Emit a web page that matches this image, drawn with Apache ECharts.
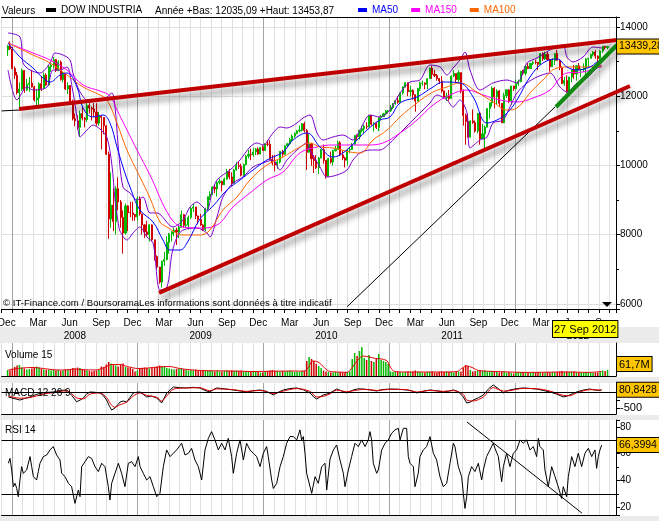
<!DOCTYPE html>
<html><head><meta charset="utf-8">
<script src="https://cdn.jsdelivr.net/npm/echarts/dist/echarts.min.js"></script>
<style>html,body{margin:0;padding:0;background:#fff}#c{width:659px;height:521px}</style>
</head><body><div id="c"></div>
<script>
// ---------- DATA ----------
const seriesName = 'DOW INDUSTRIA';
const yearLow = 12035.09, yearHigh = 13453.87;
const lastDate = '2012-09-27';
const firstWeekMonday = '2007-12-17';
const monthNames = ['Dec','Jan','Feb','Mar','Apr','May','Jun','Jul','Aug','Sep','Oct','Nov'];
// weekly candles [open, close, low, high]
const ohlc = [
[13339,13451,13167,13480],[13451,13365,13340,13580],[13365,12800,12780,13420],[12800,12606,12500,12860],[12606,12099,12050,12700],
[12099,12207,11630,12400],[12207,12743,12150,12800],[12743,12182,12100,12750],[12182,12348,12150,12500],[12348,12381,12130,12550],
[12381,12266,12250,12760],[12266,11894,11850,12300],[11894,11951,11730,12200],[11951,12361,11650,12400],[12361,12216,12150,12570],
[12216,12609,12200,12680],[12609,12325,12300,12660],[12325,12849,12300,12900],[12849,12891,12700,12950],[12891,13058,12800,13130],
[13058,12745,12700,13070],[12745,12986,12720,13040],[12986,12480,12450,13030],[12480,12638,12400,12700],[12638,12209,12180,12660],
[12209,12307,12060,12400],[12307,11843,11800,12320],[11843,11346,11300,11900],[11346,11288,11130,11500],[11288,11100,11030,11450],
[11100,11496,10830,11580],[11496,11370,11300,11700],[11370,11326,11100,11400],[11326,11734,11250,11800],[11734,11659,11500,11800],
[11659,11628,11300,11700],[11628,11543,11400,11800],[11543,11220,11150,11800],[11220,11421,11150,11550],[11421,11388,10460,11450],
[11388,11143,10900,11390],[11143,10325,10300,11150],[10325,8451,7880,10400],[8451,8852,8200,9800],[8852,8378,8100,9350],
[8378,9325,8000,9400],[9325,8943,8700,9650],[8943,8497,8200,9000],[8497,8046,7450,8700],[8046,8829,8000,8900],
[8829,8635,8100,8850],[8635,8629,8500,8950],[8629,8579,8400,8950],[8579,8515,8400,8600],[8515,9034,8400,9100],
[9034,8599,8550,9100],[8599,8281,8000,8600],[8281,8077,7900,8300],[8077,8000,7950,8400],[8000,8280,7800,8300],
[8280,7850,7800,8300],[7850,7366,7250,7850],[7366,7062,7000,7400],[7062,6627,6580,7070],[6627,7224,6470,7250],
[7224,7279,7100,7500],[7279,7776,7250,7950],[7776,8018,7450,8050],[8018,8083,7800,8100],[8083,8131,7950,8200],
[8131,8076,7700,8200],[8076,8212,7900,8300],[8212,8575,8200,8700],[8575,8268,8200,8600],[8268,8277,8200,8500],
[8277,8500,8150,8550],[8500,8764,8450,8800],[8764,8799,8650,8880],[8799,8539,8450,8800],[8539,8438,8300,8550],
[8438,8280,8250,8600],[8280,8146,8100,8300],[8146,8743,8100,8780],[8743,9093,8700,9100],[9093,9171,9000,9250],
[9171,9370,9150,9400],[9370,9321,9200,9450],[9321,9505,9100,9550],[9505,9544,9450,9620],[9544,9441,9250,9550],
[9441,9605,9430,9650],[9605,9820,9580,9900],[9820,9665,9600,9900],[9665,9487,9400,9800],[9487,9865,9480,9900],
[9865,9995,9850,10100],[9995,9972,9900,10120],[9972,9713,9680,10050],[9713,10023,9700,10050],[10023,10270,10000,10300],
[10270,10318,10200,10450],[10318,10309,10150,10480],[10309,10388,10250,10500],[10388,10471,10300,10500],[10471,10329,10300,10520],
[10329,10520,10320,10530],[10520,10428,10420,10580],[10428,10618,10420,10640],[10618,10610,10550,10730],[10610,10172,10150,10730],
[10172,10067,10000,10300],[10067,10012,9830,10300],[10012,10099,9900,10150],[10099,10402,10050,10420],[10402,10325,10250,10450],
[10325,10566,10300,10580],[10566,10625,10520,10650],[10625,10742,10600,10800],[10742,10850,10700,10900],[10850,10927,10800,10950],
[10927,10997,10900,11020],[10997,11019,10950,11150],[11019,11204,10980,11220],[11204,11009,10950,11260],[11009,10380,9870,11050],
[10380,10620,10370,10900],[10620,10193,9990,10650],[10193,10137,9780,10300],[10137,9931,9900,10300],[9931,10212,9750,10250],
[10212,10450,10200,10480],[10450,10144,10050,10600],[10144,9686,9620,10150],[9686,10198,9680,10220],[10198,10097,10050,10400],
[10097,10425,10000,10450],[10425,10466,10400,10570],[10466,10654,10460,10720],[10654,10303,10270,10700],[10303,10213,10150,10430],
[10213,10150,9940,10250],[10150,10448,10000,10480],[10448,10462,10350,10500],[10462,10607,10450,10650],[10607,10860,10600,10880],
[10860,10829,10700,10900],[10829,11006,10750,11030],[11006,11062,10950,11150],[11062,11132,10900,11180],[11132,11118,11050,11250],
[11118,11444,11100,11450],[11444,11192,11150,11450],[11192,11203,10980,11250],[11203,11092,11050,11250],[11092,11382,10990,11400],
[11382,11410,11300,11460],[11410,11491,11400,11520],[11491,11573,11450,11600],[11573,11578,11500,11600],[11578,11674,11550,11750],
[11674,11787,11630,11800],[11787,11871,11750,11880],[11871,11823,11780,12000],[11823,12092,11820,12100],[12092,12273,12050,12280],
[12273,12391,12250,12400],[12391,12130,12000,12400],[12130,12170,11990,12300],[12170,12044,11900,12200],[12044,11858,11550,12050],
[11858,12221,11850,12240],[12221,12377,12150,12420],[12377,12380,12300,12450],[12380,12342,12200,12400],[12342,12505,12200,12520],
[12505,12811,12500,12820],[12811,12638,12500,12880],[12638,12596,12550,12760],[12596,12512,12450,12640],[12512,12441,12350,12520],
[12441,12151,12100,12580],[12151,11952,11930,12170],[11952,12004,11860,12100],[12004,11934,11870,12180],[11934,12582,11930,12600],
[12582,12657,12550,12750],[12657,12479,12400,12660],[12479,12681,12400,12750],[12681,12143,12080,12690],[12143,11445,11150,12200],
[11445,11269,10600,11500],[11269,10818,10800,11500],[10818,11284,10800,11300],[11284,11240,11200,11620],[11240,10992,10950,11300],
[10992,11509,10930,11510],[11509,10771,10600,11520],[10771,10913,10770,11200],[10913,11103,10400,11150],[11103,11644,11100,11650],
[11644,11809,11350,11810],[11809,12231,11700,12280],[12231,11983,11650,12260],[11983,12153,11750,12200],[12153,11796,11700,12180],
[11796,11231,11230,11800],[11231,12019,11220,12100],[12019,12184,11950,12200],[12184,11867,11800,12200],[11867,12294,11750,12300],
[12294,12218,12150,12300],[12218,12360,12200,12480],[12360,12422,12300,12480],[12422,12720,12400,12730],[12720,12660,12600,12760],
[12660,12862,12600,12900],[12862,12801,12780,12950],[12801,12950,12800,12960],[12950,12983,12900,13020],[12983,12978,12920,13050],
[12978,12922,12750,12990],[12922,13233,12900,13250],[13233,13081,13020,13270],[13081,13212,13050,13290],[13212,13060,13050,13300],
[13060,12850,12710,13080],[12850,13029,12840,13100],[13029,13228,12900,13240],[13228,13038,13030,13340],[13038,12821,12750,13060],
[12821,12369,12350,12860],[12369,12454,12300,12560],[12454,12119,12100,12600],[12119,12554,12035.09,12560],[12554,12767,12400,12780],
[12767,12641,12500,12900],[12641,12880,12450,12900],[12880,12772,12750,12960],[12772,12777,12550,12800],[12777,12823,12700,12950],
[12823,13075,12600,13100],[13075,13096,12850,13110],[13096,13207,13090,13230],[13207,13275,13150,13300],[13275,13158,13080,13330],
[13158,13090,13000,13180],[13090,13306,13000,13320],[13306,13440,13250,13454],[13440,13410,13350,13453.87],[13410,13439.28,13360,13450]
];
// weekly volume (millions)
const volume = [
60,55,75,90,105,110,85,75,65,70, 75,90,95,85,70,65,60,65,55,60, 55,60,50,55,65,60,70,80,75,85, 80,65,60,55,50,45,50,55,60,95,
90,115,140,125,120,105,95,110,125,90, 85,80,70,45,55,70,80,85,80,75, 85,90,95,105,100,90,80,75,70,65, 70,75,80,65,60,55,60,55,65,50,
55,60,55,50,55,50,45,55,45,45, 50,55,50,55,50,55,50,55,45,50, 45,40,45,50,45,35,35,45,50,55, 60,55,50,45,50,45,50,55,45,40,
45,40,50,55,150,190,170,150,120,100, 80,55,45,40,35,35,40,35,40,35, 35,40,45,170,230,200,250,290,180,160, 210,150,140,170,220,160,150,140,120,45,
40,40,45,40,35,40,45,40,45,55, 45,40,35,35,40,40,45,35,35,40, 45,40,45,40,40,35,40,45,45,80, 110,100,60,45,50,55,60,50,55,45,
45,50,45,40,35,40,45,35,40,30, 25,35,40,40,40,35,35,35,40,35, 40,40,35,35,40,35,40,35,40,45, 50,40,45,40,45,45,40,35,35,35,
40,35,30,30,35,35,40,55,50,61.7
];
// [month index since 1 Dec 2007, value]
const ma50 = [[0.62,13538],[1.76,13133],[3.00,12815],[3.96,12526],[4.63,12410],[5.58,12613],[6.25,12671],[7.20,12266],[7.78,11659],[8.73,11399],[9.68,11457],[10.35,11226],[11.02,10532],[11.59,9954],[12.26,9376],[13.21,8711],[14.46,8365],[15.41,7844],[16.08,7555],[17.03,7555],[17.70,7758],[18.94,8451],[20.18,8827],[21.52,9289],[22.76,9578],[24.00,9867],[25.33,10156],[26.86,10388],[27.82,10734],[29.15,10937],[30.39,10532],[31.63,10243],[32.59,10359],[33.92,10734],[34.88,11023],[36.12,11312],[37.07,11399],[38.03,11804],[39.65,11977],[41.18,12266],[42.14,12410],[43.75,12382],[45.00,11977],[46.33,11226],[47.28,11312],[48.24,11514],[49.19,11890],[50.43,12555],[51.67,12960],[53.01,13075],[53.96,12844],[54.92,12757],[56.16,12844],[56.83,12989],[57.30,13050]];
const ma100 = [[0.62,13538],[3.00,13191],[4.63,12960],[6.25,12613],[7.78,12266],[9.40,12035],[10.07,11890],[11.02,11226],[11.97,10445],[13.21,9665],[14.17,9058],[15.12,8365],[15.79,8220],[17.32,7989],[18.94,7989],[19.89,8133],[21.13,8711],[22.47,9087],[23.71,9578],[25.33,10012],[26.86,10243],[28.48,10532],[29.44,10648],[30.39,10532],[31.63,10503],[33.26,10388],[34.21,10359],[35.45,10734],[36.79,11023],[38.03,11399],[39.65,11804],[41.18,12122],[42.51,12266],[43.75,12382],[45.37,12122],[46.90,11833],[48.24,11601],[49.19,11659],[50.43,12093],[51.67,12468],[53.01,12815],[54.25,12844],[55.49,12844],[57.30,12873]];
const ma150 = [[0.62,13538],[3.00,13249],[4.63,13046],[6.25,12757],[7.78,12324],[9.40,12150],[10.35,12006],[11.02,11601],[11.97,11023],[12.93,10445],[14.17,9720],[16.08,8509],[17.32,8220],[18.94,8191],[20.56,8278],[22.09,8798],[23.71,9203],[25.33,9578],[26.86,9810],[28.48,10359],[30.11,10532],[31.63,10590],[33.26,10590],[34.88,10590],[36.40,10648],[38.03,10937],[39.65,11312],[41.18,11746],[42.80,12035],[44.42,12179],[45.95,12035],[47.57,11890],[49.19,11833],[50.72,11948],[52.34,12179],[53.29,12526],[53.96,12671],[55.49,12700],[57.30,12902]];
const bandUp = [[0.62,13827],[1.76,13711],[2.05,12960],[2.72,12757],[3.67,12671],[4.63,12960],[5.10,13249],[5.87,13191],[6.54,13046],[6.82,12671],[7.49,12122],[8.44,11833],[9.40,11890],[10.07,11977],[10.54,12093],[10.83,11688],[11.11,10648],[11.59,9376],[12.26,9203],[12.93,9000],[13.50,9087],[14.17,8625],[14.84,8625],[16.36,8220],[17.32,8422],[17.99,8798],[18.65,8943],[19.23,8798],[19.61,8700],[20.08,9203],[20.56,9578],[21.80,9867],[22.76,10156],[23.71,10532],[24.38,10648],[24.95,10590],[25.91,10937],[26.57,11110],[27.24,11081],[28.20,11226],[28.77,11370],[29.44,11457],[30.11,10937],[30.68,10734],[31.63,10821],[32.59,10879],[33.54,10734],[34.21,11023],[35.16,11457],[36.12,11399],[37.07,11601],[38.03,12093],[38.98,12410],[39.93,12468],[40.89,12902],[41.85,12844],[42.51,12613],[43.09,12815],[43.75,13046],[44.23,13278],[44.71,12757],[45.66,12179],[46.90,12382],[48.24,12468],[49.19,12382],[50.15,12960],[51.10,13104],[52.34,13335],[53.58,13480],[53.96,13133],[54.54,12989],[55.49,13133],[56.44,13422],[57.30,13393]];
const bandDown = [[0.62,12757],[1.48,11890],[2.43,12266],[3.00,12179],[4.34,12266],[4.91,12757],[5.58,12757],[6.25,12844],[6.73,12266],[7.20,11399],[7.49,10821],[8.16,11023],[8.73,11168],[9.40,11050],[10.07,10800],[10.54,10000],[10.83,9000],[11.11,8400],[11.31,8100],[11.97,7844],[12.55,8046],[13.21,8220],[13.88,7931],[14.46,7758],[15.12,6399],[15.79,6486],[16.27,7467],[16.75,7931],[17.32,8133],[18.65,8191],[19.61,8046],[19.89,7931],[20.56,8509],[21.13,9087],[22.09,9491],[23.04,9665],[24.00,9954],[24.95,10070],[25.91,10156],[26.57,9867],[27.24,10156],[28.20,10445],[29.15,10648],[29.44,10445],[30.39,9954],[31.06,9665],[32.01,9722],[32.97,9867],[33.54,10156],[34.21,10359],[35.16,10445],[36.12,10445],[37.07,10648],[38.03,10937],[38.98,11226],[39.93,11515],[40.89,11804],[41.56,12035],[42.51,11890],[43.09,11688],[43.75,11890],[44.42,11515],[44.71,10503],[45.66,10734],[46.33,10821],[46.90,11226],[47.86,11312],[48.52,11688],[49.19,12093],[50.15,12382],[51.10,12555],[52.34,12671],[53.29,12266],[53.96,12122],[54.92,12382],[55.87,12526],[56.83,12815],[57.30,12850]];
const trendUpper = [[1.67,11630],[58.73,13624]];
const trendLower = [[15.03,6318],[59.97,12295]];
const trendGreen = [[52.91,11688],[58.73,13480]];
const trendBlack = [[32.97,5913],[52.82,11688]];
const stubBlack = [[0,11575],[1.67,11600]];
const volumeMa15 = [[0.65,60],[2,80],[3,85],[4,75],[5,62],[6,60],[7,70],[8,62],[9,60],[9.8,85],[10.5,115],[11.3,115],[12,95],[13,75],[14,80],[15,90],[16,95],[17,75],[18,62],[19,55],[20,52],[22,50],[24,45],[26,48],[28,50],[28.9,48],[29.3,90],[29.7,150],[30.2,140],[30.7,95],[31.2,50],[32,40],[33,37],[33.5,90],[34.0,160],[34.5,200],[35.1,190],[35.7,175],[36.3,170],[36.8,150],[37.1,90],[37.5,45],[38.5,40],[40,40],[42,40],[43.5,45],[43.9,75],[44.4,100],[44.9,85],[45.5,55],[46.4,48],[48,42],[50,36],[52,38],[54,40],[56,36],[57.27,45]];
const macdLine = [[0.65,-150],[1.2,-200],[1.76,-250],[2.2,-200],[2.72,-150],[3.4,-60],[3.99,-20],[4.5,0],[4.94,10],[5.6,60],[6.22,75],[6.7,-100],[7.17,-305],[7.5,-250],[7.81,-185],[8.1,-60],[8.44,10],[8.9,0],[9.40,-20],[9.7,-100],[10.03,-250],[10.3,-450],[10.51,-570],[10.83,-505],[11.1,-400],[11.31,-315],[11.6,-280],[11.94,-315],[12.3,-150],[12.58,-20],[12.9,0],[13.22,10],[13.5,-60],[13.85,-150],[14.3,-120],[14.81,-185],[15.1,-280],[15.28,-345],[15.5,-200],[15.76,-30],[16.1,80],[16.40,170],[17.0,150],[17.67,140],[18.3,160],[18.94,140],[19.4,60],[19.89,10],[20.2,80],[20.53,140],[21.3,110],[22.12,75],[22.8,40],[23.39,10],[24.0,50],[24.67,75],[25.3,30],[25.94,-85],[26.4,0],[26.89,75],[27.5,120],[28.17,140],[28.8,80],[29.44,-20],[29.8,-150],[30.07,-215],[30.4,-150],[30.71,-85],[31.0,-60],[31.35,-20],[31.98,105],[32.5,40],[32.94,-20],[33.57,75],[34.0,110],[34.53,105],[35.2,80],[35.80,40],[36.4,90],[37.07,105],[37.8,100],[38.66,75],[39.2,40],[39.62,-20],[40.2,30],[40.89,75],[41.5,50],[42.16,10],[42.7,40],[43.12,75],[43.6,20],[44.07,-150],[44.39,-345],[44.7,-320],[45.02,-250],[45.5,-180],[45.98,-85],[46.5,120],[46.93,235],[47.4,120],[47.89,-20],[48.2,40],[48.52,75],[49.2,120],[49.79,140],[50.4,125],[51.07,105],[51.7,60],[52.34,10],[53.0,-60],[53.61,-150],[53.9,-130],[54.25,-85],[54.6,-30],[54.88,10],[55.5,70],[56.16,105],[56.7,70],[57.11,60],[57.27,80.8428]];
const macdSignal = [[0.65,-120],[1.76,-190],[2.72,-170],[3.99,-60],[4.94,-10],[6.22,50],[7.17,-180],[7.81,-210],[8.44,-60],[9.40,-20],[10.03,-170],[10.51,-420],[10.83,-480],[11.31,-400],[11.94,-320],[12.58,-120],[13.22,-20],[13.85,-100],[14.81,-160],[15.28,-280],[15.76,-120],[16.40,100],[17.67,140],[18.94,145],[19.89,50],[20.53,110],[22.12,85],[23.39,30],[24.67,60],[25.94,-40],[26.89,40],[28.17,120],[29.44,30],[30.07,-150],[30.71,-130],[31.35,-50],[31.98,70],[32.94,20],[33.57,50],[34.53,95],[35.80,60],[37.07,95],[38.66,85],[39.62,10],[40.89,60],[42.16,30],[43.12,55],[44.07,-70],[44.39,-250],[45.02,-280],[45.98,-150],[46.93,150],[47.89,40],[48.52,55],[49.79,125],[51.07,115],[52.34,40],[53.61,-100],[54.25,-110],[54.88,-20],[56.16,85],[57.27,70]];
const rsi14 = [[0.65,52.8],[0.81,56.5],[0.97,47.8],[1.13,35.3],[1.29,37.8],[1.45,34],[1.60,27.8],[1.76,40.3],[1.92,50.3],[2.08,45.3],[2.40,47.8],[2.72,57.8],[2.88,50.3],[3.04,42.8],[3.35,40.3],[3.51,46.6],[3.67,52.8],[3.99,57.8],[4.31,59],[4.63,62.8],[4.94,65.3],[5.10,66.5],[5.26,59],[5.58,55.3],[5.74,45.3],[6.06,42.8],[6.38,37.8],[6.69,35.3],[7.01,22.8],[7.33,32.8],[7.49,27.8],[7.65,50.3],[7.97,54],[8.28,57.8],[8.60,56.5],[8.92,50.3],[9.24,46.6],[9.56,52.8],[9.87,50.3],[10.19,35.3],[10.35,25.3],[10.51,37.8],[10.83,45.3],[11.15,52.8],[11.46,45.3],[11.78,35.3],[12.10,52.8],[12.42,54],[12.74,50.3],[13.06,57.8],[13.22,50.3],[13.53,45.3],[13.85,40.3],[14.17,42.8],[14.49,35.3],[14.81,27.8],[15.12,30.3],[15.44,50.3],[15.76,62.8],[16.08,57.8],[16.40,60.3],[16.71,62.8],[17.19,67.8],[17.51,59],[17.83,60.3],[18.14,64],[18.46,55.3],[18.78,50.3],[19.10,40.3],[19.42,62.8],[19.74,71.5],[20.05,76.5],[20.37,70.3],[20.69,62.8],[21.01,67.8],[21.33,62.8],[21.64,71.5],[21.96,57.8],[22.12,45.3],[22.44,60.3],[22.76,70.3],[23.08,55.3],[23.39,67.8],[23.71,62.8],[24.03,60.3],[24.35,57.8],[24.67,50.3],[24.98,60.3],[25.30,65.3],[25.46,57.8],[25.78,40.3],[25.94,34],[26.26,37.8],[26.58,50.3],[26.89,57.8],[27.21,67.8],[27.53,72.8],[27.85,72.8],[28.17,70.3],[28.48,77.8],[28.64,70.3],[28.80,72.8],[28.96,60.3],[29.12,45.3],[29.44,35.3],[29.60,30.3],[29.92,42.8],[30.23,37.8],[30.55,50.3],[30.87,52.8],[31.03,32.8],[31.35,56],[31.67,62.8],[31.98,66.5],[32.30,55.3],[32.62,45.3],[32.78,35.3],[33.10,47.8],[33.41,57.8],[33.73,67.8],[34.05,65.3],[34.37,70.3],[34.69,65.3],[35.00,70.3],[35.16,76.5],[35.32,70.3],[35.48,52.8],[35.80,45.3],[35.96,47.8],[36.28,62.8],[36.60,67.8],[36.91,70.3],[37.23,75.3],[37.55,77.8],[37.87,79],[38.03,70.3],[38.35,79],[38.66,79],[38.82,57.8],[38.98,52.8],[39.30,50.3],[39.46,35.3],[39.77,45.3],[39.93,57.8],[40.25,62.8],[40.57,65.3],[40.89,72.8],[41.21,60.3],[41.52,55.3],[41.84,42.8],[42.16,35.3],[42.48,37.8],[42.80,52.8],[43.12,67.8],[43.27,65.3],[43.59,50.3],[43.91,42.8],[44.07,30.3],[44.23,19],[44.39,27.8],[44.55,42.8],[44.86,50.3],[45.18,46.6],[45.50,52.8],[45.82,40.3],[45.98,47.8],[46.29,57.8],[46.61,62.8],[46.93,67.8],[47.09,64],[47.41,57.8],[47.73,39],[47.89,50.3],[48.20,60.3],[48.52,50.3],[48.84,60.3],[49.16,62.8],[49.48,70.3],[49.79,67.8],[50.11,70.3],[50.43,62.8],[50.75,65.3],[51.07,57.8],[51.23,71.5],[51.38,65.3],[51.70,62.8],[51.86,47.8],[52.18,35.3],[52.50,50.3],[52.82,42.8],[53.13,35.3],[53.45,26.5],[53.61,35.3],[53.93,27.8],[54.09,42.8],[54.41,57.8],[54.72,50.3],[55.04,60.3],[55.36,50.3],[55.68,60.3],[56.00,64],[56.32,57.8],[56.63,62.8],[56.79,49],[56.95,57.8],[57.11,62.8],[57.27,66.3994]];
const rsiTrend = [[44.42,83.7],[55.39,15.5]];
const rsiBands = [70, 30];

// ---------- HELPERS ----------
const FONT = '"Liberation Sans", Arial, Helvetica, sans-serif';
const XMAX = 58.64;           // right edge of the plot (months)
const XMAX_WIDE = 60.2;       // overlay plane for trend lines that run past the price axis
const PLOT_W = 614.48;
const PX_PER_MONTH = PLOT_W / XMAX;
function monthPos(d) {
  const y = d.getUTCFullYear(), mo = d.getUTCMonth(), day = d.getUTCDate();
  const dim = new Date(Date.UTC(y, mo + 1, 0)).getUTCDate();
  return (y - 2007) * 12 + (mo - 11) + (day - 1) / dim;
}
const monday0 = new Date(firstWeekMonday + 'T00:00:00Z');
const weekX = ohlc.map((_, k) => monthPos(new Date(monday0.getTime() + (7 * k + 2) * 86400000)));
const candleData = ohlc.map((v, k) => [weekX[k], v[0], v[1], v[2], v[3]]);
const UP = '#00b800', DOWN = '#d00000';
const volData = volume.map((v, k) => ({value: [weekX[k], v], itemStyle: {color: ohlc[k][1] >= ohlc[k][0] ? UP : DOWN}}));
const fr = v => String(v).replace('.', ',');
const lastClose = ohlc[ohlc.length - 1][1];
const lastMacd = macdLine[macdLine.length - 1][1];
const lastRsi = rsi14[rsi14.length - 1][1];
const lastVol = volume[volume.length - 1];
const ld = new Date(lastDate + 'T00:00:00Z');
const lastDateText = ld.getUTCDate() + ' ' + ['Jan','Feb','Mar','Apr','May','Jun','Jul','Aug','Sep','Oct','Nov','Dec'][ld.getUTCMonth()] + ' ' + ld.getUTCFullYear();

const monthLine = '#e0e0e0', yearLine = '#a4a4a4';
const splitColors = Array.from({length: 12}, (_, i) => i === 1 ? yearLine : monthLine);
const boxLabel = {show: true, position: 'end', distance: 1, color: '#000', fontSize: 10.5, fontFamily: FONT,
  backgroundColor: '#ffc600', borderColor: '#000', borderWidth: 1, padding: [2, 10, 1, 2]};
const hiddenLine = {color: 'rgba(0,0,0,0)', width: 1, type: 'solid'};
const gridBase = {left: 1.52, width: PLOT_W, outerBoundsMode: 'none', containLabel: false};
const Y_MIN = 5850, Y_MAX = 14289;

function baseX(gridIndex, extra) {
  return Object.assign({type: 'value', gridIndex, min: 0, max: XMAX, interval: 1, position: 'bottom',
    axisLine: {show: true, onZero: false, lineStyle: {color: '#000'}}, axisTick: {show: false}, axisLabel: {show: false},
    splitLine: {show: true, lineStyle: {color: splitColors, width: 1}}}, extra || {});
}
function rightY(gridIndex, extra) {
  return Object.assign({type: 'value', gridIndex, position: 'right', scale: false,
    axisLine: {show: true, onZero: false, lineStyle: {color: '#000'}},
    axisTick: {show: true, length: 4, lineStyle: {color: '#000'}},
    axisLabel: {show: true, margin: 4, fontSize: 10, color: '#000', fontFamily: FONT, showMinLabel: false, showMaxLabel: false,
      formatter: v => String(v)},
    splitLine: {show: false}}, extra || {});
}
const lbl = {fontSize: 10, color: '#000', fontFamily: FONT};
const trendStyle = (c) => ({color: c, width: 4, shadowColor: 'rgba(0,0,0,0.42)', shadowBlur: 6, shadowOffsetX: 2, shadowOffsetY: 6});

const chart = echarts.init(document.getElementById('c'), null, {renderer: 'canvas'});
chart.setOption({
  animation: false,
  backgroundColor: '#ffffff',
  textStyle: {fontFamily: FONT},
  grid: [
    Object.assign({top: 17, height: 292}, gridBase),
    Object.assign({top: 343, height: 33}, gridBase),
    Object.assign({top: 383, height: 31}, gridBase),
    Object.assign({top: 420, height: 95}, gridBase),
    {left: 1.52, width: PX_PER_MONTH * XMAX_WIDE, top: 17, height: 292, outerBoundsMode: 'none', containLabel: false}
  ],
  legend: [
    {data: [{name: seriesName, icon: 'rect', itemStyle: {color: '#000', borderColor: '#000', borderWidth: 0}}], left: 46, top: 5, padding: 0,
      itemWidth: 10, itemHeight: 4, selectedMode: false, itemStyle: {color: '#000', borderColor: '#000', borderWidth: 0},
      textStyle: Object.assign({}, lbl)},
    {data: [{name: 'MA50', icon: 'rect', textStyle: {color: '#0000ff'}}, {name: 'MA150', icon: 'rect', textStyle: {color: '#ff00ff'}},
            {name: 'MA100', icon: 'rect', textStyle: {color: '#ff6600'}}],
      left: 358, top: 5, padding: 0, itemGap: 13, itemWidth: 9, itemHeight: 4, selectedMode: false, textStyle: Object.assign({}, lbl)}
  ],
  xAxis: [
    baseX(0, {axisTick: {show: true, length: 4, lineStyle: {color: '#000'}}}),
    {type: 'value', gridIndex: 0, min: 0, max: XMAX, interval: 0.5, position: 'bottom',
      axisLine: {show: false, onZero: false}, axisTick: {show: false}, splitLine: {show: false},
      axisLabel: Object.assign({show: true, margin: 9, formatter: v => {
        const k = v - 0.5; if (Math.abs(k - Math.round(k)) > 1e-6) return '';
        const i = Math.round(k); return i % 3 === 0 ? monthNames[i % 12] : '';
      }}, lbl)},
    {type: 'value', gridIndex: 0, min: 0, max: XMAX, interval: 1, position: 'bottom', offset: 14,
      axisLine: {show: false, onZero: false}, axisTick: {show: false}, splitLine: {show: false},
      axisLabel: Object.assign({show: true, margin: 8, formatter: v => {
        if (Math.abs(v - Math.round(v)) > 1e-6) return '';
        const i = Math.round(v); return i % 12 === 7 ? String(2007 + Math.floor((i + 11) / 12)) : '';
      }}, lbl)},
    {type: 'value', gridIndex: 0, min: 0, max: XMAX, position: 'top',
      axisLine: {show: true, onZero: false, lineStyle: {color: '#000'}}, axisTick: {show: false}, axisLabel: {show: false}, splitLine: {show: false}},
    baseX(1), baseX(2), baseX(3),
    {type: 'value', gridIndex: 4, min: 0, max: XMAX_WIDE, show: false, axisLine: {onZero: false}}
  ],
  yAxis: [
    rightY(0, {min: Y_MIN, max: Y_MAX, minInterval: 2000, maxInterval: 2000,
      minorTick: {show: true, splitNumber: 2, length: 3, lineStyle: {color: '#000'}},
      splitLine: {show: true, lineStyle: {color: '#e0e0e0'}}}),
    rightY(1, {min: 0, max: 330, axisLabel: {show: false}, axisTick: {show: false}}),
    rightY(2, {min: -700, max: 300, minInterval: 250, maxInterval: 250,
      axisLabel: {show: true, margin: 4, fontSize: 11, color: '#000', fontFamily: FONT, showMinLabel: false, showMaxLabel: false,
        formatter: v => v === -500 ? '-500' : ''}}),
    rightY(3, {min: 14.1, max: 85.2, minInterval: 20, maxInterval: 20,
      minorTick: {show: true, splitNumber: 2, length: 3, lineStyle: {color: '#000'}}}),
    {type: 'value', gridIndex: 4, min: Y_MIN, max: Y_MAX, show: false, axisLine: {onZero: false}}
  ],
  series: [
    {name: seriesName, type: 'candlestick', xAxisIndex: 0, yAxisIndex: 0, data: candleData,
      encode: {x: 0, y: [1, 2, 3, 4]}, barWidth: 1.6,
      itemStyle: {color: UP, color0: DOWN, borderColor: UP, borderColor0: DOWN, borderWidth: 1},
      markLine: {silent: true, symbol: ['none', 'none'], animation: false, z: 20,
        data: [{yAxis: lastClose, lineStyle: hiddenLine, label: Object.assign({formatter: fr(lastClose)}, boxLabel)}]}},
    {name: 'BB+', type: 'line', xAxisIndex: 0, yAxisIndex: 0, data: bandUp, showSymbol: false, symbol: 'none', smooth: 0.3,
      lineStyle: {color: '#7d00cc', width: 1}, itemStyle: {color: '#7d00cc'}},
    {name: 'BB-', type: 'line', xAxisIndex: 0, yAxisIndex: 0, data: bandDown, showSymbol: false, symbol: 'none', smooth: 0.3,
      lineStyle: {color: '#7d00cc', width: 1}, itemStyle: {color: '#7d00cc'}},
    {name: 'MA150', type: 'line', xAxisIndex: 0, yAxisIndex: 0, data: ma150, showSymbol: false, symbol: 'none', smooth: 0.4,
      lineStyle: {color: '#ff00ff', width: 1}, itemStyle: {color: '#ff00ff'}},
    {name: 'MA100', type: 'line', xAxisIndex: 0, yAxisIndex: 0, data: ma100, showSymbol: false, symbol: 'none', smooth: 0.4,
      lineStyle: {color: '#ff6600', width: 1}, itemStyle: {color: '#ff6600'}},
    {name: 'MA50', type: 'line', xAxisIndex: 0, yAxisIndex: 0, data: ma50, showSymbol: false, symbol: 'none', smooth: 0.4,
      lineStyle: {color: '#0000ff', width: 1}, itemStyle: {color: '#0000ff'}},
    {name: 'stub', type: 'line', xAxisIndex: 0, yAxisIndex: 0, data: stubBlack, showSymbol: false, symbol: 'none',
      lineStyle: {color: '#000', width: 1}},
    {name: 'trendBlack', type: 'line', xAxisIndex: 0, yAxisIndex: 0, data: trendBlack, showSymbol: false, symbol: 'none',
      lineStyle: {color: '#000', width: 1}},
    {name: 'trendUpper', type: 'line', xAxisIndex: 7, yAxisIndex: 4, data: trendUpper, showSymbol: false, symbol: 'none', clip: false, z: 5,
      lineStyle: trendStyle('#c00000')},
    {name: 'trendLower', type: 'line', xAxisIndex: 7, yAxisIndex: 4, data: trendLower, showSymbol: false, symbol: 'none', clip: false, z: 5,
      lineStyle: trendStyle('#c00000')},
    {name: 'trendGreen', type: 'line', xAxisIndex: 7, yAxisIndex: 4, data: trendGreen, showSymbol: false, symbol: 'none', clip: false, z: 5,
      lineStyle: trendStyle('#108a10')},
    {name: 'Volume', type: 'bar', xAxisIndex: 4, yAxisIndex: 1, data: volData, barWidth: 1.5},
    {name: 'Volume 15', type: 'line', xAxisIndex: 4, yAxisIndex: 1, data: volumeMa15, showSymbol: false, symbol: 'none', smooth: 0.3,
      lineStyle: {color: '#e00000', width: 1}},
    {name: 'MACD', type: 'line', xAxisIndex: 5, yAxisIndex: 2, data: macdLine, showSymbol: false, symbol: 'none',
      lineStyle: {color: '#000', width: 1},
      markLine: {silent: true, symbol: ['none', 'none'], animation: false, z: 20,
        data: [{yAxis: 0, lineStyle: {color: '#000', type: 'solid', width: 1}, label: {show: false}},
               {yAxis: lastMacd, lineStyle: hiddenLine, label: Object.assign({formatter: fr(lastMacd)}, boxLabel)}]}},
    {name: 'Signal', type: 'line', xAxisIndex: 5, yAxisIndex: 2, data: macdSignal, showSymbol: false, symbol: 'none', smooth: 0.3,
      lineStyle: {color: '#e00000', width: 1}},
    {name: 'RSI 14', type: 'line', xAxisIndex: 6, yAxisIndex: 3, data: rsi14, showSymbol: false, symbol: 'none',
      lineStyle: {color: '#000', width: 1},
      markLine: {silent: true, symbol: ['none', 'none'], animation: false, z: 20,
        data: rsiBands.map(v => ({yAxis: v, lineStyle: {color: '#000', type: 'solid', width: 1}, label: {show: false}}))
          .concat([{yAxis: lastRsi, lineStyle: hiddenLine, label: Object.assign({formatter: fr(lastRsi)}, boxLabel)}])}},
    {name: 'RSI trend', type: 'line', xAxisIndex: 6, yAxisIndex: 3, data: rsiTrend, showSymbol: false, symbol: 'none',
      lineStyle: {color: '#000', width: 1}}
  ],
  graphic: [
    {type: 'rect', z: -10, silent: true, shape: {x: 0, y: 327, width: 659, height: 16}, style: {fill: '#ebebeb'}},
    {type: 'rect', z: -10, silent: true, shape: {x: 0, y: 377, width: 659, height: 6}, style: {fill: '#ebebeb'}},
    {type: 'rect', z: -10, silent: true, shape: {x: 0, y: 415, width: 659, height: 5}, style: {fill: '#ebebeb'}},
    {type: 'rect', z: -10, silent: true, shape: {x: 0, y: 516, width: 659, height: 5}, style: {fill: '#ebebeb'}},
    {type: 'text', x: 2, y: 11.5, silent: true, style: {text: 'Valeurs', fill: '#000', font: '10px ' + FONT, verticalAlign: 'middle'}},
    {type: 'text', x: 155, y: 11.5, silent: true, style: {text: 'Année +Bas: ' + fr(yearLow) + ' +Haut: ' + fr(yearHigh), fill: '#000', font: '10px ' + FONT, verticalAlign: 'middle'}},
    {type: 'text', x: 3, y: 303, silent: true, z: 50, style: {text: '© IT-Finance.com / BoursoramaLes informations sont données à titre indicatif', fill: '#000', font: '9.6px ' + FONT, verticalAlign: 'middle'}},
    {type: 'polygon', silent: true, z: 50, shape: {points: [[602, 302], [612, 302], [607, 307]]}, style: {fill: '#000'}},
    {type: 'text', x: 5, y: 355, silent: true, z: 50, style: {text: 'Volume 15', fill: '#000', font: '10px ' + FONT, verticalAlign: 'middle'}},
    {type: 'text', x: 5, y: 393, silent: true, z: 50, style: {text: 'MACD 12 26 9', fill: '#000', font: '10px ' + FONT, verticalAlign: 'middle'}},
    {type: 'text', x: 5, y: 430, silent: true, z: 50, style: {text: 'RSI 14', fill: '#000', font: '10px ' + FONT, verticalAlign: 'middle'}},
    {type: 'text', x: 553, y: 321, silent: true, z: 100, style: {text: lastDateText, fill: '#000', font: '11px ' + FONT,
      backgroundColor: '#ffff00', borderColor: '#000', borderWidth: 1, padding: [3, 1, 2, 1]}},
    {type: 'text', x: 617, y: 357, silent: true, z: 100, style: {text: fr(lastVol) + 'M', fill: '#000', font: '11px ' + FONT,
      backgroundColor: '#ffc600', borderColor: '#000', borderWidth: 1, padding: [2, 2, 1, 2]}}
  ]
});
</script>
</body></html>
